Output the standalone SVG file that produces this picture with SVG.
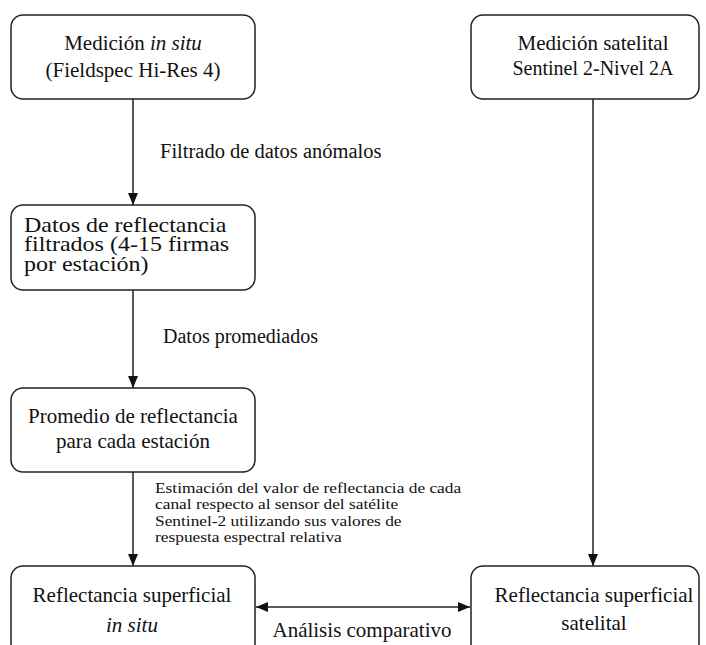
<svg xmlns="http://www.w3.org/2000/svg" width="706" height="645" viewBox="0 0 706 645">
<style>
.box{fill:#fff;stroke:#222;stroke-width:1.5}
.t{font-family:'Liberation Serif','Times New Roman','DejaVu Serif',serif;fill:#111}
.c{text-anchor:middle}
.e{stroke:#222;stroke-width:1.5;fill:none}
</style>
<defs>
<marker id="ah" markerUnits="userSpaceOnUse" markerWidth="12" markerHeight="10" refX="12" refY="5" orient="auto-start-reverse">
<path d="M0,0 L12,5 L0,10 z" fill="#111"/>
</marker>
</defs>
<rect width="706" height="645" fill="#fff"/>
<g id="connectors">
<line class="e" x1="133" y1="99" x2="133" y2="205" marker-end="url(#ah)"/>
<line class="e" x1="133" y1="290" x2="133" y2="388" marker-end="url(#ah)"/>
<line class="e" x1="133" y1="472" x2="133" y2="566" marker-end="url(#ah)"/>
<line class="e" x1="593" y1="99" x2="593" y2="566" marker-end="url(#ah)"/>
<line class="e" x1="256" y1="607" x2="470" y2="607" marker-start="url(#ah)" marker-end="url(#ah)"/>
<text class="t" x="160" y="158" font-size="20.5">Filtrado de datos anómalos</text>
<text class="t" x="163" y="343" font-size="20">Datos promediados</text>
<g transform="translate(155,0) scale(1.12,1)">
<text class="t" font-size="15.5"><tspan x="0" y="493">Estimación del valor de reflectancia de cada</tspan><tspan x="0" y="509.5">canal respecto al sensor del satélite</tspan><tspan x="0" y="526">Sentinel-2 utilizando sus valores de</tspan><tspan x="0" y="542">respuesta espectral relativa</tspan></text>
</g>
<text class="t c" x="362" y="637" font-size="21">Análisis comparativo</text>
</g>
<g id="n1">
<rect class="box" x="11" y="15" width="244" height="84" rx="12"/>
<text class="t c" x="133" y="50" font-size="21">Medición <tspan font-style="italic">in situ</tspan></text>
<text class="t c" x="133" y="77" font-size="21">(Fieldspec Hi-Res 4)</text>
</g>
<g id="n2">
<rect class="box" x="471" y="15" width="228" height="84" rx="12"/>
<text class="t c" x="593" y="50" font-size="21">Medición satelital</text>
<text class="t c" x="593" y="75" font-size="20">Sentinel 2-Nivel 2A</text>
</g>
<g id="n3">
<rect class="box" x="11" y="205" width="244" height="85" rx="12"/>
<g transform="translate(24,0) scale(1.2,1)">
<text class="t" font-size="20"><tspan x="0" y="232">Datos de reflectancia</tspan><tspan x="0" y="251.5">filtrados (4-15 firmas</tspan><tspan x="0" y="271">por estación)</tspan></text>
</g>
</g>
<g id="n4">
<rect class="box" x="11" y="388" width="244" height="84" rx="12"/>
<text class="t c" x="133" y="423" font-size="21">Promedio de reflectancia</text>
<text class="t c" x="133" y="448" font-size="21">para cada estación</text>
</g>
<g id="n5">
<rect class="box" x="11" y="566" width="244" height="90" rx="12"/>
<text class="t c" x="132" y="602" font-size="21">Reflectancia superficial</text>
<text class="t c" x="132" y="632" font-size="21" font-style="italic">in situ</text>
</g>
<g id="n6">
<rect class="box" x="471" y="566" width="228" height="90" rx="12"/>
<text class="t c" x="594" y="602" font-size="21">Reflectancia superficial</text>
<text class="t c" x="594" y="630" font-size="21">satelital</text>
</g>
</svg>
